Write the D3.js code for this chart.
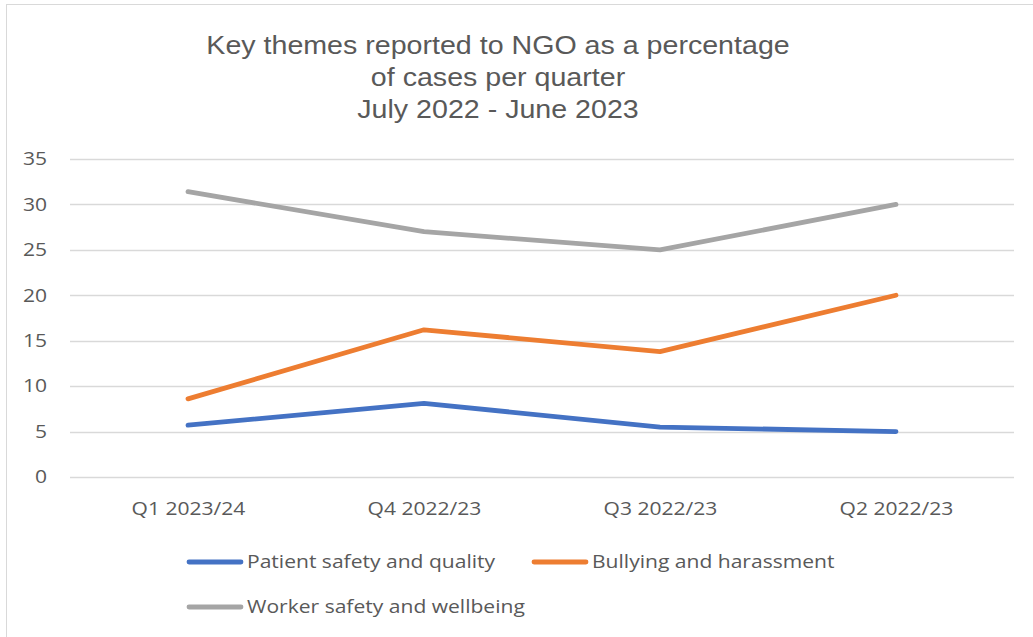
<!DOCTYPE html>
<html>
<head>
<meta charset="utf-8">
<script src="https://cdn.jsdelivr.net/npm/d3@7"></script>
<style>
  html, body { margin: 0; padding: 0; background: #fff; }
  svg { display: block; }
</style>
</head>
<body>
<svg id="chart" width="1033" height="637"></svg>
<script>
// Quarterly categories (as labelled on the axis)
const categories = ["Q1 2023/24", "Q4 2022/23", "Q3 2022/23", "Q2 2022/23"];

// Percentage of cases per quarter for each theme
const patientSafety = [5.7, 8.1, 5.5, 5.0];
const bullying = [8.6, 16.2, 13.8, 20.0];
const workerSafety = [31.4, 27.0, 25.0, 30.0];

const seriesNames = ["Patient safety and quality", "Bullying and harassment", "Worker safety and wellbeing"];
const seriesColors = ["#4472C4", "#ED7D31", "#A5A5A5"];
const yTicks = [0, 5, 10, 15, 20, 25, 30, 35];
const titleLines = ["Key themes reported to NGO as a percentage", "of cases per quarter", "July 2022 - June 2023"];

const series = [patientSafety, bullying, workerSafety].map((values, i) => ({
  name: seriesNames[i], color: seriesColors[i], values
}));

const svg = d3.select("#chart");
const W = 1033, H = 637;
const plot = { left: 70, right: 1014, top: 159, bottom: 477 };
const labelFont = "'Open Sans', 'Noto Sans', sans-serif";
const textColor = "#595959";
const stretch = "scale(1.17,1)";   // wide lettering used for labels and legend

// Chart area border
svg.append("rect")
  .attr("x", 6.5).attr("y", 4.5)
  .attr("width", W + 10).attr("height", H + 10)
  .attr("fill", "#fff").attr("stroke", "#d9d9d9").attr("stroke-width", 1);

// Title, one text element per line
const titleY = [54, 86, 118];
svg.append("g").selectAll("text").data(titleLines).join("text")
  .attr("transform", (d, i) => `translate(498,${titleY[i]}) scale(1.1,1)`)
  .attr("text-anchor", "middle")
  .attr("font-family", "'Liberation Sans', Arial, sans-serif")
  .attr("font-size", 26)
  .attr("fill", textColor)
  .text(d => d);

const x = d3.scalePoint().domain(categories).range([plot.left, plot.right]).padding(0.5);
const y = d3.scaleLinear().domain([0, 35]).range([plot.bottom, plot.top]);

// Horizontal gridlines
svg.append("g").selectAll("line").data(yTicks).join("line")
  .attr("x1", plot.left).attr("x2", plot.right)
  .attr("y1", d => Math.round(y(d)) + 0.5).attr("y2", d => Math.round(y(d)) + 0.5)
  .attr("stroke", "#d9d9d9").attr("stroke-width", 1.3);

// Y axis labels
const yAxis = d3.axisLeft(y).tickValues(yTicks).tickSize(0).tickPadding(0);
const gy = svg.append("g").attr("transform", `translate(${plot.left - 23},0)`).call(yAxis);
gy.select(".domain").remove();
gy.selectAll("text")
  .attr("transform", stretch)
  .attr("font-family", labelFont).attr("font-size", 18).attr("fill", textColor);

// X axis labels
const xAxis = d3.axisBottom(x).tickSize(0).tickPadding(0);
const gx = svg.append("g").attr("transform", `translate(0,${plot.bottom + 25})`).call(xAxis);
gx.select(".domain").remove();
gx.selectAll("text")
  .attr("transform", stretch)
  .attr("font-family", labelFont).attr("font-size", 18).attr("fill", textColor);

// Lines
const line = d3.line().x((d, i) => x(categories[i])).y(d => y(d));
svg.append("g").selectAll("path").data(series).join("path")
  .attr("d", d => line(d.values))
  .attr("fill", "none")
  .attr("stroke", d => d.color)
  .attr("stroke-width", 4.8)
  .attr("stroke-linecap", "round")
  .attr("stroke-linejoin", "round");

// Legend
const legendPos = [[187, 562], [532, 562], [187, 607]];
const lg = svg.append("g").selectAll("g").data(series).join("g")
  .attr("transform", (d, i) => `translate(${legendPos[i][0]},${legendPos[i][1]})`);
lg.append("line")
  .attr("x1", 2).attr("x2", 54).attr("y1", 0).attr("y2", 0)
  .attr("stroke", d => d.color).attr("stroke-width", 4.8).attr("stroke-linecap", "round");
lg.append("text")
  .attr("transform", `translate(60,0) ${stretch}`)
  .attr("dy", "0.35em")
  .attr("font-family", labelFont).attr("font-size", 18).attr("fill", textColor)
  .text(d => d.name);
</script>
</body>
</html>
